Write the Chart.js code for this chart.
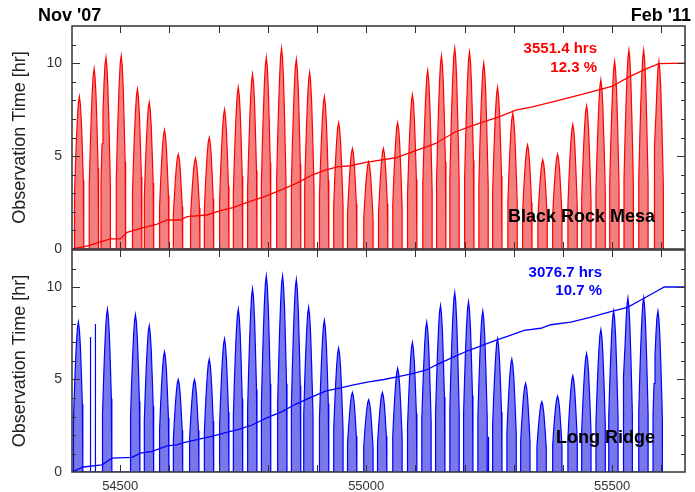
<!DOCTYPE html>
<html>
<head>
<meta charset="utf-8">
<script src="https://cdn.jsdelivr.net/npm/chart.js@4.4.1/dist/chart.umd.min.js"></script>
<style>
  body { margin: 0; background: #fff; }
  #wrap { position: relative; width: 695px; height: 492px; }
  #topBox { position: absolute; left: 0; top: 0; width: 695px; height: 259px; }
  #botBox { position: absolute; left: 0; top: 249px; width: 695px; height: 243px; }
</style>
</head>
<body>
<div id="wrap">
  <div id="topBox"><canvas id="brmChart"></canvas></div>
  <div id="botBox"><canvas id="lrChart"></canvas></div>
</div>
<script>
const xTickLabels = [54500, 55000, 55500];
const yTickLabels = [0, 5, 10];

// Black Rock Mesa: MJD of the longest night in each dark period, and its length [hr]
const brmPeakDays = [54417, 54447, 54471, 54502, 54535, 54559, 54590, 54618, 54653, 54681,
  54712, 54740, 54769, 54797, 54828, 54858, 54885, 54915, 54944, 54972,
  55005, 55035, 55064, 55094, 55125, 55153, 55180, 55210, 55239, 55267,
  55298, 55328, 55359, 55389, 55420, 55448, 55477, 55505, 55534, 55564, 55595];
const brmPeakHours = [8.2, 9.7, 10.3, 10.4, 8.6, 7.9, 6.4, 5.1, 4.9, 6.0,
  7.5, 8.7, 9.4, 10.3, 10.8, 10.2, 9.5, 8.2, 6.8, 5.4,
  4.7, 5.4, 6.8, 8.3, 9.6, 10.4, 10.8, 10.6, 10.0, 8.7,
  7.3, 5.6, 4.8, 5.1, 6.7, 7.7, 9.1, 10.1, 10.7, 10.7, 10.1];
// cumulative observation time, scaled so the total is 10
const brmCumDays = [54402, 54432, 54480, 54500, 54514, 54541, 54575, 54595, 54622, 54636,
  54676, 54704, 54731, 54758, 54792, 54826, 54860, 54890, 54917, 54941,
  54968, 54999, 55060, 55094, 55141, 55182, 55229, 55270, 55304, 55338,
  55399, 55446, 55501, 55534, 55568, 55595, 55648];
const brmCumValues = [0, 0.16, 0.54, 0.54, 0.9, 1.11, 1.34, 1.56, 1.56, 1.74,
  1.83, 2.06, 2.24, 2.51, 2.81, 3.17, 3.56, 3.98, 4.25, 4.42,
  4.48, 4.66, 4.91, 5.23, 5.68, 6.31, 6.76, 7.11, 7.47, 7.65,
  8.05, 8.37, 8.76, 9.26, 9.68, 9.98, 10.0];

// Long Ridge
const lrPeakDays = [54415, 54474, 54531, 54559, 54590, 54618, 54651, 54681, 54712, 54740,
  54769, 54797, 54830, 54858, 54883, 54915, 54944, 54972, 55005, 55033,
  55064, 55094, 55123, 55151, 55180, 55208, 55237, 55267, 55296, 55324,
  55357, 55389, 55420, 55448, 55477, 55503, 55532, 55564, 55593];
const lrPeakHours = [8.1, 8.8, 8.5, 7.9, 6.5, 5.0, 5.0, 6.1, 7.2, 8.8,
  9.9, 10.6, 10.6, 10.4, 8.9, 8.2, 6.7, 4.3, 3.9, 4.3,
  5.6, 7.0, 8.1, 9.0, 9.7, 9.2, 8.7, 7.2, 6.1, 4.8,
  3.8, 4.1, 5.2, 6.4, 7.7, 8.7, 9.4, 9.4, 8.7];
// isolated single nights
const lrSingleDays = [54439, 54449, 55248];
const lrSingleHours = [7.3, 8.0, 1.9];
const lrCumDays = [54402, 54408, 54425, 54463, 54483, 54524, 54541, 54565, 54595, 54615,
  54629, 54663, 54690, 54724, 54741, 54768, 54799, 54829, 54856, 54890,
  54917, 54948, 54972, 55005, 55036, 55063, 55094, 55121, 55148, 55178,
  55209, 55236, 55263, 55287, 55321, 55355, 55375, 55416, 55457, 55497,
  55531, 55562, 55592, 55606, 55648];
const lrCumValues = [0, 0.07, 0.27, 0.39, 0.75, 0.79, 1.02, 1.11, 1.41, 1.47,
  1.59, 1.79, 1.95, 2.2, 2.31, 2.54, 2.94, 3.26, 3.66, 4.06,
  4.37, 4.55, 4.69, 4.87, 5.0, 5.14, 5.32, 5.5, 5.86, 6.22,
  6.58, 6.84, 7.11, 7.33, 7.65, 7.77, 7.96, 8.1, 8.37, 8.67,
  8.9, 9.35, 9.8, 10.0, 10.0];

// outline of one dark period around its peak night (days from peak, share of peak)
const shapeDays = [-10, -10, -8, -6, -4, -2, 0, 2, 4, 6, 8, 9, 9];
const shapeFrac = [0, 0.35, 0.55, 0.72, 0.86, 0.96, 1, 0.95, 0.84, 0.66, 0.45, 0.33, 0];
const singleDays = [0, 0, 1, 1];
const singleFrac = [0, 1, 1, 0];

function buildSpikes(days, hours, oneDays, oneHours) {
  const groups = [];
  days.forEach((d, i) => {
    groups.push(shapeDays.map((o, k) => ({ x: d + o, y: hours[i] * shapeFrac[k] })));
  });
  (oneDays || []).forEach((d, i) => {
    groups.push(singleDays.map((o, k) => ({ x: d + o, y: oneHours[i] * singleFrac[k] })));
  });
  groups.sort((a, b) => a[0].x - b[0].x);
  return groups.flat();
}

function zip(xs, ys) {
  return xs.map((x, i) => ({ x: x, y: ys[i] }));
}

// frame, inward tick marks and panel texts
const panelFrame = {
  id: "panelFrame",
  afterDraw(chart, args, opts) {
    const { ctx, chartArea: a, scales: { x, y } } = chart;
    ctx.save();
    ctx.strokeStyle = "#333";
    ctx.lineWidth = 1;
    ctx.beginPath();
    for (let v = 54500; v <= 55600; v += 100) {
      const px = Math.round(x.getPixelForValue(v)) + 0.5;
      ctx.moveTo(px, a.top); ctx.lineTo(px, a.top + 7);
      ctx.moveTo(px, a.bottom); ctx.lineTo(px, a.bottom - 7);
    }
    for (let v = 1; v < 12; v++) {
      const py = Math.round(y.getPixelForValue(v)) + 0.5;
      const len = v % 5 === 0 ? 8 : 4;
      ctx.moveTo(a.left, py); ctx.lineTo(a.left + len, py);
      ctx.moveTo(a.right, py); ctx.lineTo(a.right - len, py);
    }
    ctx.stroke();
    ctx.lineWidth = 1.5;
    ctx.strokeRect(a.left, a.top, a.right - a.left, a.bottom - a.top);

    opts.texts.forEach((t) => {
      ctx.font = "bold " + t.size + "px 'Liberation Sans', Arial, sans-serif";
      ctx.fillStyle = t.color;
      ctx.textAlign = t.align;
      ctx.textBaseline = "alphabetic";
      ctx.fillText(t.text, t.x, t.y);
    });
    ctx.restore();
  }
};

const fontFamily = "'Liberation Sans', Arial, sans-serif";

function makeChart(id, cfg) {
  return new Chart(document.getElementById(id), {
    type: "line",
    data: {
      datasets: [
        {
          data: cfg.cumulative,
          borderColor: cfg.line,
          borderWidth: 1.3,
          pointRadius: 0,
          fill: false,
          order: 0,
        },
        {
          data: cfg.spikes,
          borderColor: cfg.line,
          backgroundColor: cfg.fill,
          borderWidth: 1.2,
          pointRadius: 0,
          fill: "origin",
          order: 1,
        },
      ],
    },
    options: {
      animation: false,
      responsive: true,
      maintainAspectRatio: false,
      layout: { padding: cfg.padding },
      elements: { line: { tension: 0 } },
      scales: {
        x: {
          type: "linear",
          min: 54402,
          max: 55648,
          display: cfg.showX,
          afterBuildTicks: (s) => { s.ticks = xTickLabels.map((v) => ({ value: v })); },
          afterFit: (s) => {
            s.height = cfg.showX ? 20 : 0;
            s.paddingLeft = 0; s.paddingRight = 0;
          },
          grid: { display: false, drawTicks: false },
          border: { display: false },
          ticks: {
            padding: 7,
            color: "#333",
            font: { size: 13, family: fontFamily },
            maxRotation: 0,
            callback: (v) => String(v),
          },
        },
        y: {
          min: 0,
          max: 12,
          afterBuildTicks: (s) => { s.ticks = yTickLabels.map((v) => ({ value: v })); },
          afterFit: (s) => {
            s.width = 72;
            s.paddingTop = 0; s.paddingBottom = 0;
          },
          grid: { display: false, drawTicks: false },
          border: { display: false },
          ticks: {
            padding: 10,
            color: "#333",
            font: { size: 14, family: fontFamily },
          },
          title: {
            display: true,
            text: "Observation Time [hr]",
            color: "#222",
            font: { size: 18, family: fontFamily },
            padding: { top: 9, bottom: 0 },
          },
        },
      },
      plugins: {
        legend: { display: false },
        tooltip: { enabled: false },
        panelFrame: { texts: cfg.texts },
      },
    },
    plugins: [panelFrame],
  });
}

makeChart("brmChart", {
  spikes: buildSpikes(brmPeakDays, brmPeakHours),
  cumulative: zip(brmCumDays, brmCumValues),
  line: "#ff0000",
  fill: "#f28080",
  showX: false,
  padding: { top: 26, right: 10, bottom: 10, left: 0 },
  texts: [
    { text: "Nov '07", x: 38, y: 21, size: 18, color: "#000", align: "left" },
    { text: "Feb '11", x: 691, y: 21, size: 18, color: "#000", align: "right" },
    { text: "3551.4 hrs", x: 597, y: 53, size: 15, color: "#ff0000", align: "right" },
    { text: "12.3 %", x: 597, y: 72, size: 15, color: "#ff0000", align: "right" },
    { text: "Black Rock Mesa", x: 655, y: 222, size: 18, color: "#000", align: "right" },
  ],
});

makeChart("lrChart", {
  spikes: buildSpikes(lrPeakDays, lrPeakHours, lrSingleDays, lrSingleHours),
  cumulative: zip(lrCumDays, lrCumValues),
  line: "#0000ff",
  fill: "#7878ea",
  showX: true,
  padding: { top: 1, right: 10, bottom: 0, left: 0 },
  texts: [
    { text: "3076.7 hrs", x: 602, y: 28, size: 15, color: "#0000ff", align: "right" },
    { text: "10.7 %", x: 602, y: 46, size: 15, color: "#0000ff", align: "right" },
    { text: "Long Ridge", x: 655, y: 194, size: 18, color: "#000", align: "right" },
  ],
});
</script>
</body>
</html>
